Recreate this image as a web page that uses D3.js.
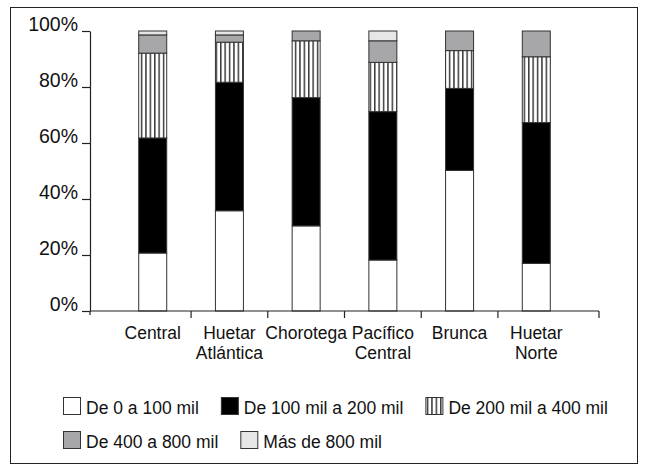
<!DOCTYPE html>
<html>
<head>
<meta charset="utf-8">
<script src="https://cdn.jsdelivr.net/npm/d3@7"></script>
<style>
  html, body { margin: 0; padding: 0; background: #fff; }
  svg { display: block; }
  text { font-family: "Liberation Sans", Arial, sans-serif; fill: #111; }
</style>
</head>
<body>
<svg id="chart" width="648" height="471"></svg>
<script>
// Regions (multi-line labels split on "\n")
const regions = ["Central", "Huetar\nAtlántica", "Chorotega", "Pacífico\nCentral", "Brunca", "Huetar\nNorte"];

// Share of each income bracket per region (%)
const de0a100    = [20.7, 35.8, 30.4, 18.2, 50.2, 17.0];
const de100a200  = [41.1, 45.9, 45.8, 53.0, 29.3, 50.3];
const de200a400  = [30.3, 14.3, 20.3, 17.6, 13.5, 23.5];
const de400a800  = [6.5, 2.6, 3.5, 7.7, 7.0, 9.2];
const mas800     = [1.4, 1.4, 0.0, 3.5, 0.0, 0.0];

const seriesNames = ["De 0 a 100 mil", "De 100 mil a 200 mil", "De 200 mil a 400 mil", "De 400 a 800 mil", "Más de 800 mil"];
const seriesValues = [de0a100, de100a200, de200a400, de400a800, mas800];

const yTicks = [0, 20, 40, 60, 80, 100];

const svg = d3.select("#chart");

// Vertical stripe fill for the 200–400 mil bracket
const defs = svg.append("defs");
const pat = defs.append("pattern")
  .attr("id", "stripes")
  .attr("patternUnits", "userSpaceOnUse")
  .attr("width", 4.4).attr("height", 10);
pat.append("rect").attr("width", 4.4).attr("height", 10).attr("fill", "#fff");
pat.append("rect").attr("x", 0).attr("width", 1.5).attr("height", 10).attr("fill", "#3a3a3a");

const fills = ["#ffffff", "#000000", "url(#stripes)", "#a7a7aa", "#e6e6e6"];

// Outer frame
svg.append("rect")
  .attr("x", 10.5).attr("y", 7.5).attr("width", 627).attr("height", 456)
  .attr("fill", "none").attr("stroke", "#222").attr("stroke-width", 1);

const x = d3.scaleBand().domain(regions).range([90, 599]).padding(0.635);
const y = d3.scaleLinear().domain([0, 100]).range([311, 31]);

// Stack the brackets
const rows = regions.map((r, i) => {
  const o = { region: r };
  seriesNames.forEach((s, k) => { o[s] = seriesValues[k][i]; });
  return o;
});
const stacked = d3.stack().keys(seriesNames)(rows);

const g = svg.append("g");
stacked.forEach((layer, k) => {
  g.selectAll(null)
    .data(layer.filter(d => d[1] - d[0] > 0))
    .join("rect")
    .attr("x", d => x(d.data.region))
    .attr("width", x.bandwidth())
    .attr("y", d => y(d[1]))
    .attr("height", d => y(d[0]) - y(d[1]))
    .attr("fill", fills[k])
    .attr("stroke", "#333")
    .attr("stroke-width", 1);
});

// Y axis
const yAxis = svg.append("g").attr("transform", "translate(90,0)")
  .call(d3.axisLeft(y).tickValues(yTicks).tickFormat(d => d + "%").tickSize(8).tickSizeOuter(0));
yAxis.select(".domain").attr("stroke", "#222").attr("stroke-width", 1.2);
yAxis.selectAll(".tick line").attr("stroke", "#222").attr("stroke-width", 1.2);
yAxis.selectAll(".tick text")
  .attr("font-size", 19.5).attr("font-family", "Liberation Sans, Arial, sans-serif")
  .attr("fill", "#111").attr("x", -12).attr("dy", "-0.02em");

// X axis: ticks sit on band boundaries
const bounds = regions.map(r => x(r) - x.step() * x.paddingInner() / 2).concat([599]);
const xAxisG = svg.append("g");
xAxisG.append("line")
  .attr("x1", 90).attr("x2", 599).attr("y1", 311).attr("y2", 311)
  .attr("stroke", "#222").attr("stroke-width", 1.2);
xAxisG.selectAll("line.tk").data(bounds.slice(1)).join("line")
  .attr("class", "tk")
  .attr("x1", d => d).attr("x2", d => d).attr("y1", 311).attr("y2", 318)
  .attr("stroke", "#222").attr("stroke-width", 1.2);
xAxisG.append("line")
  .attr("x1", 90).attr("x2", 90).attr("y1", 311).attr("y2", 315)
  .attr("stroke", "#222").attr("stroke-width", 1.2);

const labels = xAxisG.selectAll("text.cat").data(regions).join("text")
  .attr("class", "cat")
  .attr("text-anchor", "middle")
  .attr("font-size", 17.5)
  .attr("transform", d => `translate(${x(d) + x.bandwidth() / 2},338.5)`);
labels.selectAll("tspan").data(d => d.split("\n")).join("tspan")
  .attr("x", 0).attr("dy", (d, i) => i === 0 ? 0 : 20).text(d => d);

// Legend, flowing left to right in two rows
const legendRows = [[0, 1, 2], [3, 4]];
const rowY = [397, 431];
const lg = svg.append("g");
legendRows.forEach((items, r) => {
  let cx = 63;
  items.forEach(k => {
    lg.append("rect")
      .attr("x", cx + 0.5).attr("y", rowY[r] + 0.5).attr("width", 17).attr("height", 17)
      .attr("fill", fills[k]).attr("stroke", "#333").attr("stroke-width", 1);
    const t = lg.append("text")
      .attr("x", cx + 23).attr("y", rowY[r] + 16.5)
      .attr("font-size", 17.5)
      .text(seriesNames[k]);
    cx += 23 + t.node().getComputedTextLength() + 22;
  });
});
</script>
</body>
</html>
